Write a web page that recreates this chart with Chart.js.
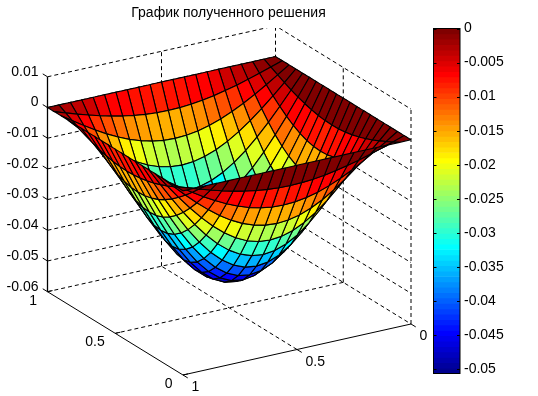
<!DOCTYPE html>
<html><head><meta charset="utf-8">
<style>html,body{margin:0;padding:0;background:#fff;overflow:hidden}
#wrap{position:relative;width:538px;height:396px}
canvas{position:absolute;top:0}
#surf{left:0}#bar{left:400px}</style>
<script src="https://cdn.jsdelivr.net/npm/chart.js@4"></script>
</head><body><div id="wrap"><canvas id="surf" width="457" height="396"></canvas><canvas id="bar" width="138" height="396"></canvas></div>
<script>
const titleText = "График полученного решения";
const gridU = [0,0.05,0.1,0.15,0.2,0.25,0.3,0.35,0.4,0.45,0.5,0.55,0.6,0.65,0.7,0.75,0.8,0.85,0.9,0.95,1];
const gridV = [0,0.05,0.1,0.15,0.2,0.25,0.3,0.35,0.4,0.45,0.5,0.55,0.6,0.65,0.7,0.75,0.8,0.85,0.9,0.95,1];
const row00 = [0,0,0,0,0,0,0,0,0,0,0,0,0,0,0,0,0,0,0,0,0];
const row01 = [0,-0.00124,-0.00245,-0.0036,-0.00466,-0.0056,-0.00641,-0.00706,-0.00754,-0.00783,-0.00792,-0.00783,-0.00754,-0.00706,-0.00641,-0.0056,-0.00466,-0.0036,-0.00245,-0.00124,0];
const row02 = [0,-0.00245,-0.00484,-0.00711,-0.0092,-0.01107,-0.01266,-0.01395,-0.01489,-0.01546,-0.01565,-0.01546,-0.01489,-0.01395,-0.01266,-0.01107,-0.0092,-0.00711,-0.00484,-0.00245,0];
const row03 = [0,-0.0036,-0.00711,-0.01044,-0.01352,-0.01626,-0.01861,-0.02049,-0.02188,-0.02272,-0.023,-0.02272,-0.02188,-0.02049,-0.01861,-0.01626,-0.01352,-0.01044,-0.00711,-0.0036,0];
const row04 = [0,-0.00466,-0.0092,-0.01352,-0.0175,-0.02106,-0.02409,-0.02653,-0.02832,-0.02941,-0.02978,-0.02941,-0.02832,-0.02653,-0.02409,-0.02106,-0.0175,-0.01352,-0.0092,-0.00466,0];
const row05 = [0,-0.0056,-0.01107,-0.01626,-0.02106,-0.02533,-0.02898,-0.03192,-0.03407,-0.03538,-0.03582,-0.03538,-0.03407,-0.03192,-0.02898,-0.02533,-0.02106,-0.01626,-0.01107,-0.0056,0];
const row06 = [0,-0.00641,-0.01266,-0.01861,-0.02409,-0.02898,-0.03316,-0.03652,-0.03898,-0.04048,-0.04098,-0.04048,-0.03898,-0.03652,-0.03316,-0.02898,-0.02409,-0.01861,-0.01266,-0.00641,0];
const row07 = [0,-0.00706,-0.01395,-0.02049,-0.02653,-0.03192,-0.03652,-0.04022,-0.04293,-0.04458,-0.04514,-0.04458,-0.04293,-0.04022,-0.03652,-0.03192,-0.02653,-0.02049,-0.01395,-0.00706,0];
const row08 = [0,-0.00754,-0.01489,-0.02188,-0.02832,-0.03407,-0.03898,-0.04293,-0.04583,-0.04759,-0.04818,-0.04759,-0.04583,-0.04293,-0.03898,-0.03407,-0.02832,-0.02188,-0.01489,-0.00754,0];
const row09 = [0,-0.00783,-0.01546,-0.02272,-0.02941,-0.03538,-0.04048,-0.04458,-0.04759,-0.04942,-0.05004,-0.04942,-0.04759,-0.04458,-0.04048,-0.03538,-0.02941,-0.02272,-0.01546,-0.00783,0];
const row10 = [0,-0.00792,-0.01565,-0.023,-0.02978,-0.03582,-0.04098,-0.04514,-0.04818,-0.05004,-0.05066,-0.05004,-0.04818,-0.04514,-0.04098,-0.03582,-0.02978,-0.023,-0.01565,-0.00792,0];
const row11 = [0,-0.00783,-0.01546,-0.02272,-0.02941,-0.03538,-0.04048,-0.04458,-0.04759,-0.04942,-0.05004,-0.04942,-0.04759,-0.04458,-0.04048,-0.03538,-0.02941,-0.02272,-0.01546,-0.00783,0];
const row12 = [0,-0.00754,-0.01489,-0.02188,-0.02832,-0.03407,-0.03898,-0.04293,-0.04583,-0.04759,-0.04818,-0.04759,-0.04583,-0.04293,-0.03898,-0.03407,-0.02832,-0.02188,-0.01489,-0.00754,0];
const row13 = [0,-0.00706,-0.01395,-0.02049,-0.02653,-0.03192,-0.03652,-0.04022,-0.04293,-0.04458,-0.04514,-0.04458,-0.04293,-0.04022,-0.03652,-0.03192,-0.02653,-0.02049,-0.01395,-0.00706,0];
const row14 = [0,-0.00641,-0.01266,-0.01861,-0.02409,-0.02898,-0.03316,-0.03652,-0.03898,-0.04048,-0.04098,-0.04048,-0.03898,-0.03652,-0.03316,-0.02898,-0.02409,-0.01861,-0.01266,-0.00641,0];
const row15 = [0,-0.0056,-0.01107,-0.01626,-0.02106,-0.02533,-0.02898,-0.03192,-0.03407,-0.03538,-0.03582,-0.03538,-0.03407,-0.03192,-0.02898,-0.02533,-0.02106,-0.01626,-0.01107,-0.0056,0];
const row16 = [0,-0.00466,-0.0092,-0.01352,-0.0175,-0.02106,-0.02409,-0.02653,-0.02832,-0.02941,-0.02978,-0.02941,-0.02832,-0.02653,-0.02409,-0.02106,-0.0175,-0.01352,-0.0092,-0.00466,0];
const row17 = [0,-0.0036,-0.00711,-0.01044,-0.01352,-0.01626,-0.01861,-0.02049,-0.02188,-0.02272,-0.023,-0.02272,-0.02188,-0.02049,-0.01861,-0.01626,-0.01352,-0.01044,-0.00711,-0.0036,0];
const row18 = [0,-0.00245,-0.00484,-0.00711,-0.0092,-0.01107,-0.01266,-0.01395,-0.01489,-0.01546,-0.01565,-0.01546,-0.01489,-0.01395,-0.01266,-0.01107,-0.0092,-0.00711,-0.00484,-0.00245,0];
const row19 = [0,-0.00124,-0.00245,-0.0036,-0.00466,-0.0056,-0.00641,-0.00706,-0.00754,-0.00783,-0.00792,-0.00783,-0.00754,-0.00706,-0.00641,-0.0056,-0.00466,-0.0036,-0.00245,-0.00124,0];
const row20 = [0,0,0,0,0,0,0,0,0,0,0,0,0,0,0,0,0,0,0,0,0];
const surfaceRows = [row00,row01,row02,row03,row04,row05,row06,row07,row08,row09,row10,row11,row12,row13,row14,row15,row16,row17,row18,row19,row20];
const zTicks = [0.01,0,-0.01,-0.02,-0.03,-0.04,-0.05,-0.06];
const zTickLabels = ["0.01","0","-0.01","-0.02","-0.03","-0.04","-0.05","-0.06"];
const uTicks = [0,0.5,1];
const uTickLabels = ["0","0.5","1"];
const vTicks = [0,0.5,1];
const vTickLabels = ["0","0.5","1"];
const barTicks = [0,-0.005,-0.01,-0.015,-0.02,-0.025,-0.03,-0.035,-0.04,-0.045,-0.05];
const barTickLabels = ["0","-0.005","-0.01","-0.015","-0.02","-0.025","-0.03","-0.035","-0.04","-0.045","-0.05"];
const zMin = -0.06, zMax = 0.01, cMin = -0.05066, cMax = 0;

const FONT = '14px "Liberation Sans", Arial, sans-serif';
function jet(i){ // i = 1..64, MATLAB jet(64)
  let r,g,b;
  r = i<=24?0: i<=40?(i-24)/16: i<=56?1: 1-(i-56)/16;
  g = i<=8?0: i<=24?(i-8)/16: i<=40?1: i<=56?1-(i-40)/16: 0;
  b = i<=8?0.5+i/16: i<=24?1: i<=40?1-(i-24)/16: 0;
  return `rgb(${Math.round(r*255)},${Math.round(g*255)},${Math.round(b*255)})`;
}
function colourFor(z){
  let i = Math.floor((z-cMin)/(cMax-cMin)*64)+1;
  return jet(Math.max(1,Math.min(64,i)));
}
// orthographic view of the (u,v,z) box onto the 2-D scales
function project(u,v,z){
  return {x:411-228*u-135.5*v, y:324+51*u-83.3*v-(z-zMin)*3070};
}
const datasets = [];
const n = gridU.length-1;
// front cells first: Chart.js paints the first dataset last
for(let i=n-1;i>=0;i--){
  for(let j=0;j<n;j++){
    const r=surfaceRows;
    datasets.push({
      data:[project(gridU[i],gridV[j],r[i][j]),project(gridU[i+1],gridV[j],r[i+1][j]),
            project(gridU[i+1],gridV[j+1],r[i+1][j+1]),project(gridU[i],gridV[j+1],r[i][j+1]),
            project(gridU[i],gridV[j],r[i][j])],
      showLine:true,fill:'shape',backgroundColor:colourFor(r[i][j]),
      borderColor:'#000',borderWidth:1.1,pointRadius:0,tension:0
    });
  }
}
function line(points,dashed,w){
  datasets.push({data:points.map(p=>project(p[0],p[1],p[2])),showLine:true,fill:false,
    borderColor:'#000',borderWidth:w||1,borderDash:dashed?[4,3]:[],pointRadius:0,tension:0});
}
// solid axes and ticks
line([[1,1,zMin],[1,1,zMax]],false,1.3);
line([[1,1,zMin],[1,0,zMin],[0,0,zMin]],false,1);
zTicks.forEach(z=>line([[1,1,z],[1,1.035,z]]));
uTicks.forEach(u=>line([[u,0,zMin],[u,-0.035,zMin]]));
vTicks.forEach(v=>line([[1,v,zMin],[0.978,v,zMin]]));
// dashed walls and floor
zTicks.forEach(z=>line([[1,1,z],[0,1,z],[0,0,z]],true));
[[0,1],[0,0],[0.5,1],[0,0.5]].forEach(p=>line([[p[0],p[1],zMin],[p[0],p[1],zMax]],true));
line([[0.5,0,zMin],[0.5,1,zMin]],true);
line([[0,0.5,zMin],[1,0.5,zMin]],true);

const labels3d = {id:'labels3d',afterDatasetsDraw(c){
  const ctx=c.ctx,sx=c.scales.x,sy=c.scales.y;
  const px=p=>({x:sx.getPixelForValue(p.x),y:sy.getPixelForValue(p.y)});
  ctx.save();ctx.fillStyle='#000';ctx.font=FONT;ctx.textBaseline='middle';
  ctx.textAlign='right';
  zTicks.forEach((z,i)=>{const p=px(project(1,1,z));ctx.fillText(zTickLabels[i],p.x-9,p.y-5);});
  vTicks.forEach((v,i)=>{const p=px(project(1,v,zMin));ctx.fillText(vTickLabels[i],p.x-10.5,p.y+9);});
  ctx.textAlign='left';
  uTicks.forEach((u,i)=>{const p=px(project(u,0,zMin));ctx.fillText(uTickLabels[i],p.x+8.5,p.y+12.5);});
  ctx.restore();
}};
new Chart(document.getElementById('surf'),{
  type:'scatter',
  data:{datasets},
  options:{responsive:false,animation:false,events:[],
    layout:{padding:0},
    plugins:{legend:{display:false},tooltip:{enabled:false},
      title:{display:true,text:titleText,color:'#000',
        font:{family:'"Liberation Sans", Arial, sans-serif',size:14,weight:'normal',lineHeight:'16px'},
        padding:{top:5,bottom:7}}},
    scales:{
      x:{type:'linear',display:false,min:0,max:457},
      y:{type:'linear',display:false,reverse:true,min:28,max:396}
    }
  },
  plugins:[labels3d]
});

// colour bar: one stacked column of 64 bands, top band first
const bandSize = cMin/64;
const bands = [];
for(let i=64;i>=1;i--) bands.push({data:[bandSize],backgroundColor:jet(i),borderWidth:0,barPercentage:1,categoryPercentage:1});
const barFrame = {id:'barFrame',afterDraw(c){
  const ctx=c.ctx,a=c.chartArea,y=c.scales.y;
  ctx.save();ctx.strokeStyle='#000';ctx.lineWidth=1;
  barTicks.forEach(t=>{const p=Math.round(y.getPixelForValue(t))+0.5;
    ctx.beginPath();ctx.moveTo(a.left,p);ctx.lineTo(a.left+3,p);ctx.moveTo(a.right-3,p);ctx.lineTo(a.right,p);ctx.stroke();});
  ctx.strokeRect(a.left,a.top,a.right-a.left,a.bottom-a.top);
  ctx.restore();
}};
new Chart(document.getElementById('bar'),{
  type:'bar',
  data:{labels:['colour'],datasets:bands},
  options:{responsive:false,animation:false,events:[],
    layout:{padding:{left:33.5,top:28.5,bottom:22.5,right:0}},
    plugins:{legend:{display:false},tooltip:{enabled:false}},
    scales:{
      x:{stacked:true,display:false},
      y:{stacked:true,position:'right',min:cMin,max:cMax,
        afterFit(s){s.width=78;},
        afterBuildTicks(s){s.ticks=barTicks.map(v=>({value:v}));},
        grid:{display:false,drawTicks:false},border:{display:false},
        ticks:{color:'#000',padding:4,autoSkip:false,font:{family:'"Liberation Sans", Arial, sans-serif',size:14},
          callback(v,i){return barTickLabels[i];}}
      }
    }
  },
  plugins:[barFrame]
});
</script></body></html>
